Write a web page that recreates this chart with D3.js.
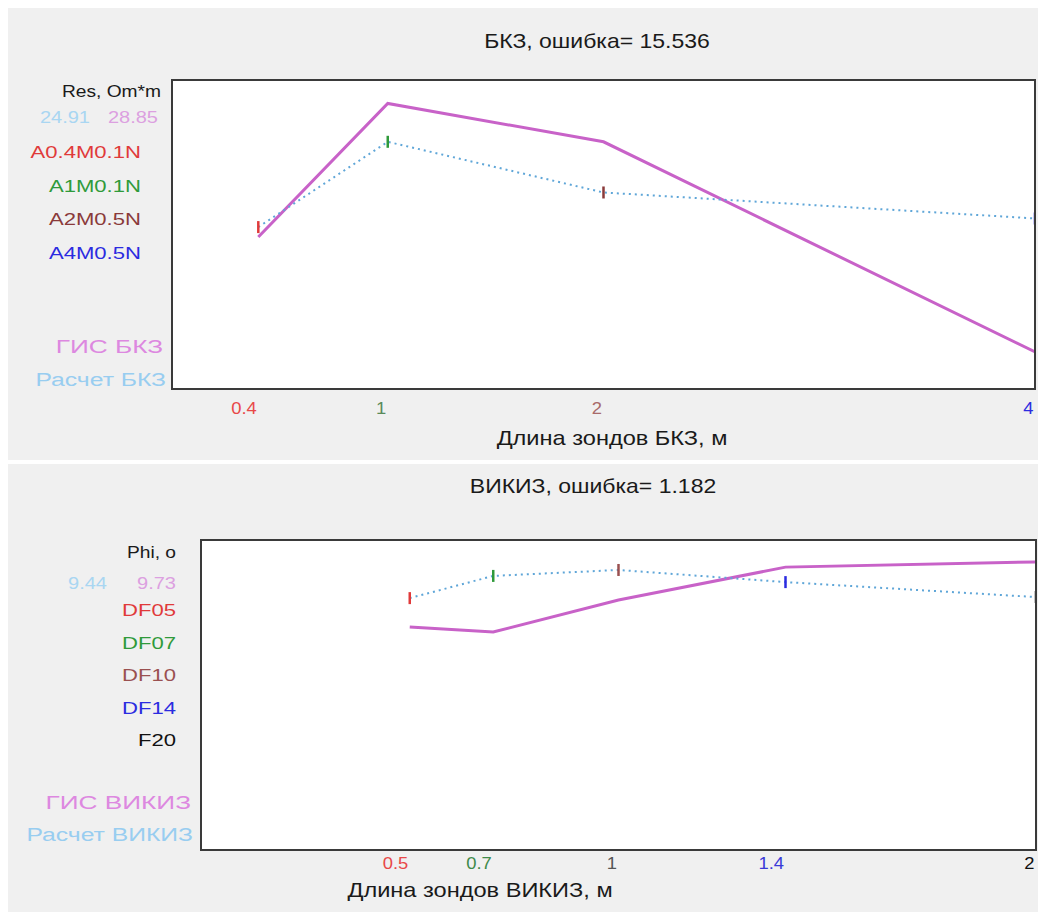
<!DOCTYPE html>
<html>
<head>
<meta charset="utf-8">
<script src="https://cdn.jsdelivr.net/npm/d3@7"></script>
<style>
  html, body { margin: 0; padding: 0; background: #ffffff; }
  svg { display: block; }
  text { font-family: "Liberation Sans", Arial, sans-serif; }
</style>
</head>
<body>
<svg id="chart" width="1038" height="912"></svg>
<script>
// ---- BKZ (lateral logging) probes ----
const bkzProbes = [0.4, 1, 2, 4];
const bkzProbeNames = ["A0.4M0.1N", "A1M0.1N", "A2M0.5N", "A4M0.5N"];
const bkzTickLabels = ["0.4", "1", "2", "4"];
const bkzGis = [22.3, 33.1, 30.0, 13.0];      // measured resistivity, Om*m
const bkzCalc = [23.1, 30.0, 25.9, 23.8];     // modelled resistivity, Om*m
const bkzCurrent = ["24.91", "28.85"];        // calc, measured
const bkzError = "15.536";

// ---- VIKIZ (high-frequency induction) probes ----
const vikizProbes = [0.5, 0.7, 1, 1.4, 2];
const vikizProbeNames = ["DF05", "DF07", "DF10", "DF14", "F20"];
const vikizTickLabels = ["0.5", "0.7", "1", "1.4", "2"];
const vikizGis = [8.63, 8.44, 9.68, 10.95, 11.15];   // measured phase difference
const vikizCalc = [9.75, 10.61, 10.84, 10.37, 9.79]; // modelled phase difference
const vikizCurrent = ["9.44", "9.73"];
const vikizError = "1.182";

const probeColorsBkz = ["#e03a3a", "#2f9a3a", "#8a3a3a", "#2b2be0"];
const tickColorsBkz = ["#e84848", "#5a8a5a", "#a86a6a", "#2b2be0"];
const probeColorsVikiz = ["#e03a3a", "#2f9a3a", "#9a5050", "#2b2be0", "#111111"];
const tickColorsVikiz = ["#e84848", "#3f8a4a", "#555555", "#3a3ad8", "#111111"];

const GIS_COLOR = "#c862c8";
const CALC_COLOR = "#5fa6d8";
const STRETCH = 1.15;

const svg = d3.select("#chart");

// horizontally widened label, anchored at (x, y)
function label(g, x, y, str, opts) {
  const o = Object.assign({ size: 17, fill: "#111", anchor: "start", sx: STRETCH }, opts || {});
  return g.append("text")
    .attr("transform", `translate(${x},${y}) scale(${o.sx},1)`)
    .attr("text-anchor", o.anchor)
    .attr("font-size", o.size)
    .attr("fill", o.fill)
    .text(str);
}

function panel(cfg) {
  const g = svg.append("g");
  g.append("rect")
    .attr("x", 8).attr("y", cfg.top).attr("width", 1030).attr("height", cfg.height)
    .attr("fill", "#f0f0f0");

  const x = d3.scaleLinear().domain(cfg.xDomain).range([cfg.box.x0, cfg.box.x1]);
  const y = d3.scaleLinear().domain(cfg.yDomain).range([cfg.box.y1, cfg.box.y0]);

  // title
  label(g, cfg.titleX, cfg.titleY, cfg.title, { size: 20, anchor: "middle", fill: "#1a1a1a" });

  // plotting box
  g.append("rect")
    .attr("x", cfg.box.x0).attr("y", cfg.box.y0)
    .attr("width", cfg.box.x1 - cfg.box.x0).attr("height", cfg.box.y1 - cfg.box.y0)
    .attr("fill", "#ffffff").attr("stroke", "#3a3a3a").attr("stroke-width", 2);

  const clipId = "clip-" + cfg.id;
  svg.append("defs").append("clipPath").attr("id", clipId)
    .append("rect")
    .attr("x", cfg.box.x0 + 1).attr("y", cfg.box.y0 + 1)
    .attr("width", cfg.box.x1 - cfg.box.x0 - 2).attr("height", cfg.box.y1 - cfg.box.y0 - 2);

  const plot = g.append("g").attr("clip-path", `url(#${clipId})`);
  const line = d3.line().x(d => x(d[0])).y(d => y(d[1]));

  // measured curve
  plot.append("path")
    .datum(d3.zip(cfg.probes, cfg.gis))
    .attr("d", line)
    .attr("fill", "none").attr("stroke", GIS_COLOR).attr("stroke-width", 3)
    .attr("stroke-linejoin", "miter");

  // modelled curve
  plot.append("path")
    .datum(d3.zip(cfg.probes, cfg.calc))
    .attr("d", line)
    .attr("fill", "none").attr("stroke", CALC_COLOR).attr("stroke-width", 2)
    .attr("stroke-dasharray", "2,4");

  // probe markers on modelled curve
  plot.selectAll("line.mark")
    .data(d3.zip(cfg.probes, cfg.calc, cfg.markColors))
    .join("line")
    .attr("class", "mark")
    .attr("x1", d => x(d[0])).attr("x2", d => x(d[0]))
    .attr("y1", d => y(d[1]) - 6).attr("y2", d => y(d[1]) + 6)
    .attr("stroke", d => d[2]).attr("stroke-width", 2.5);

  // x axis with per-probe coloured labels
  const axis = d3.axisBottom(x).tickValues(cfg.probes).tickSize(0)
    .tickFormat((d, i) => cfg.tickLabels[i]);
  const ax = g.append("g").attr("transform", `translate(0,${cfg.box.y1})`).call(axis);
  ax.select(".domain").remove();
  ax.selectAll(".tick text").remove();
  ax.selectAll(".tick").each(function (d, i) {
    label(d3.select(this), -2, cfg.tickY - cfg.box.y1, cfg.tickLabels[i],
      { size: 16, anchor: "end", fill: cfg.tickColors[i] });
  });

  label(g, cfg.axisTitleX, cfg.axisTitleY, cfg.axisTitle, { size: 20, anchor: "middle", fill: "#1a1a1a", sx: 1.18 });

  // side legend
  const L = cfg.legend;
  label(g, L.unitX, L.unitY, L.unit, { size: 16, anchor: "end", fill: "#1a1a1a", sx: 1.2 });
  label(g, L.calcValX, L.valY, cfg.current[0], { size: 16, anchor: "end", fill: "#a9d6f2", sx: 1.25 });
  label(g, L.gisValX, L.valY, cfg.current[1], { size: 16, anchor: "end", fill: "#dca0e0", sx: 1.25 });
  cfg.names.forEach((n, i) => {
    label(g, L.nameX, L.nameY0 + i * L.nameStep, n, { size: 17, anchor: "end", fill: cfg.nameColors[i], sx: 1.3 });
  });
  label(g, L.gisX, L.gisY, L.gisText, { size: 19, anchor: "end", fill: "#dd88e0", sx: 1.38 });
  label(g, L.calcX, L.calcY, L.calcText, { size: 19, anchor: "end", fill: "#98cdf0", sx: 1.3 });
}

panel({
  id: "bkz", top: 8, height: 452,
  title: "БКЗ, ошибка= " + bkzError, titleX: 597, titleY: 48,
  box: { x0: 172, x1: 1035, y0: 80, y1: 389 },
  xDomain: [0, 4], yDomain: [10, 35],
  probes: bkzProbes, gis: bkzGis, calc: bkzCalc,
  markColors: probeColorsBkz, tickLabels: bkzTickLabels, tickColors: tickColorsBkz,
  tickY: 414, axisTitle: "Длина зондов БКЗ, м", axisTitleX: 612, axisTitleY: 445,
  names: bkzProbeNames, nameColors: probeColorsBkz, current: bkzCurrent,
  legend: {
    unit: "Res, Om*m", unitX: 161, unitY: 97,
    calcValX: 90, gisValX: 158, valY: 123,
    nameX: 141, nameY0: 158, nameStep: 33.5,
    gisText: "ГИС БКЗ", gisX: 163, gisY: 353,
    calcText: "Расчет БКЗ", calcX: 166, calcY: 386
  }
});

panel({
  id: "vikiz", top: 464, height: 448,
  title: "ВИКИЗ, ошибка= " + vikizError, titleX: 593, titleY: 493,
  box: { x0: 201, x1: 1036, y0: 540, y1: 850 },
  xDomain: [0, 2], yDomain: [0, 12],
  probes: vikizProbes, gis: vikizGis, calc: vikizCalc,
  markColors: probeColorsVikiz, tickLabels: vikizTickLabels, tickColors: tickColorsVikiz,
  tickY: 869, axisTitle: "Длина зондов ВИКИЗ, м", axisTitleX: 480, axisTitleY: 897,
  names: vikizProbeNames, nameColors: probeColorsVikiz, current: vikizCurrent,
  legend: {
    unit: "Phi, o", unitX: 176, unitY: 558,
    calcValX: 107, gisValX: 176, valY: 589,
    nameX: 176, nameY0: 616, nameStep: 32.5,
    gisText: "ГИС ВИКИЗ", gisX: 191, gisY: 809,
    calcText: "Расчет ВИКИЗ", calcX: 193, calcY: 841
  }
});
</script>
</body>
</html>
